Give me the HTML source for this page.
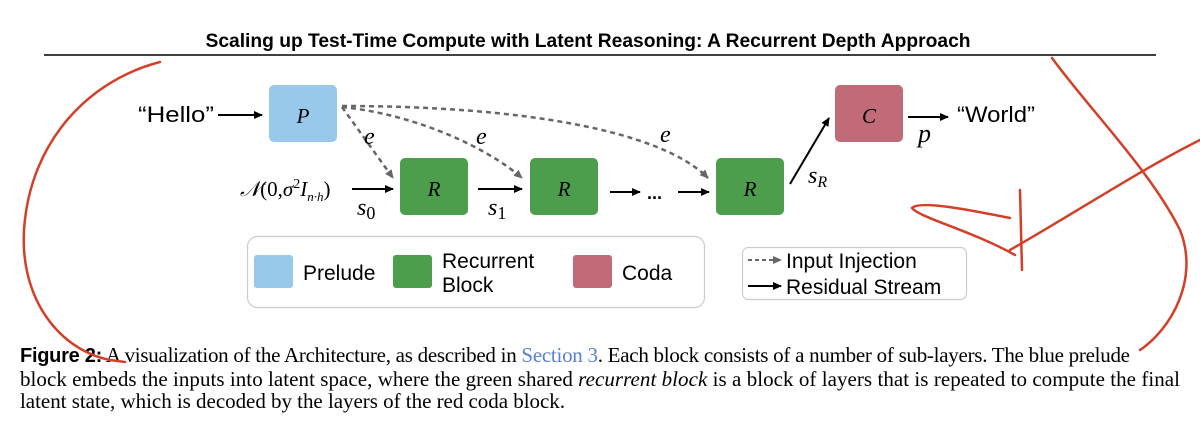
<!DOCTYPE html>
<html><head><meta charset="utf-8"><style>
html,body{margin:0;padding:0;background:#fff;width:1200px;height:424px;overflow:hidden}
svg{display:block}
.s{font-family:"Liberation Sans",sans-serif}
.m{font-family:"Liberation Serif",serif;font-style:italic}
.c{font-family:"Liberation Serif",serif;font-size:21px}
</style></head><body>
<svg width="1200" height="424" viewBox="0 0 1200 424" xmlns="http://www.w3.org/2000/svg">
<defs>
<marker id="ab" markerWidth="10" markerHeight="10" refX="8" refY="5" orient="auto" markerUnits="userSpaceOnUse"><path d="M0,1 L9,5 L0,9 Z" fill="#000"/></marker>
<marker id="ag" markerWidth="10" markerHeight="10" refX="8" refY="5" orient="auto" markerUnits="userSpaceOnUse"><path d="M0,1 L9,5 L0,9 Z" fill="#666"/></marker>
</defs>
<text x="588" y="47" text-anchor="middle" class="s" font-size="19" font-weight="bold" textLength="765" lengthAdjust="spacingAndGlyphs">Scaling up Test-Time Compute with Latent Reasoning: A Recurrent Depth Approach</text>
<line x1="44" y1="55" x2="1156" y2="55" stroke="#000" stroke-width="1.5"/>

<text x="138" y="122" class="s" font-size="22" textLength="76" lengthAdjust="spacingAndGlyphs">“Hello”</text>
<line x1="218" y1="115" x2="262" y2="115" stroke="#000" stroke-width="2" marker-end="url(#ab)"/>
<rect x="269" y="85" width="68" height="57" rx="5" fill="#98c8ea"/>
<text x="303" y="123" class="m" font-size="21" text-anchor="middle">P</text>

<g stroke="#666" stroke-width="2.5" stroke-dasharray="5,4" fill="none">
<path d="M342,107 L393,178" marker-end="url(#ag)"/>
<path d="M342,107 C420,115 490,150 522,178" marker-end="url(#ag)"/>
<path d="M342,106 C520,106 660,130 708,178" marker-end="url(#ag)"/>
</g>
<text x="364" y="144" class="m" font-size="24">e</text>
<text x="476" y="144" class="m" font-size="24">e</text>
<text x="660" y="142" class="m" font-size="24">e</text>

<text x="240" y="196" class="m" font-size="21">𝒩<tspan font-style="normal">(0,</tspan>σ<tspan font-size="14" dy="-8" font-style="normal">2</tspan><tspan dy="8">I</tspan><tspan font-size="13" dy="5">n·h</tspan><tspan dy="-5" font-style="normal">)</tspan></text>
<line x1="352" y1="189" x2="393" y2="189" stroke="#000" stroke-width="2" marker-end="url(#ab)"/>
<text x="357" y="215" class="m" font-size="24">s<tspan font-style="normal" font-size="18" dy="4">0</tspan></text>
<rect x="400" y="158" width="68" height="57" rx="5" fill="#4c9e4c"/>
<text x="434" y="196" class="m" font-size="21" text-anchor="middle">R</text>
<line x1="478" y1="189" x2="522" y2="189" stroke="#000" stroke-width="2" marker-end="url(#ab)"/>
<text x="488" y="215" class="m" font-size="24">s<tspan font-style="normal" font-size="18" dy="4">1</tspan></text>
<rect x="530" y="158" width="68" height="57" rx="5" fill="#4c9e4c"/>
<text x="564" y="196" class="m" font-size="21" text-anchor="middle">R</text>
<line x1="610" y1="192" x2="640" y2="192" stroke="#000" stroke-width="2" marker-end="url(#ab)"/>
<text x="647" y="199" class="s" font-size="18" font-weight="bold">...</text>
<line x1="678" y1="192" x2="709" y2="192" stroke="#000" stroke-width="2" marker-end="url(#ab)"/>
<rect x="716" y="158" width="68" height="57" rx="5" fill="#4c9e4c"/>
<text x="750" y="196" class="m" font-size="21" text-anchor="middle">R</text>
<line x1="790" y1="184" x2="829" y2="118" stroke="#000" stroke-width="2" marker-end="url(#ab)"/>
<text x="808" y="183" class="m" font-size="24">s<tspan font-size="16" dy="4">R</tspan></text>
<rect x="835" y="85" width="68" height="57" rx="5" fill="#c26b78"/>
<text x="869" y="123" class="m" font-size="21" text-anchor="middle">C</text>
<line x1="908" y1="117" x2="948" y2="117" stroke="#000" stroke-width="2" marker-end="url(#ab)"/>
<text x="918" y="142" class="m" font-size="26">p</text>
<text x="957" y="122" class="s" font-size="22" textLength="78" lengthAdjust="spacingAndGlyphs">“World”</text>

<rect x="247.5" y="236.5" width="457" height="71" rx="10" fill="#fff" stroke="#ccc" stroke-width="1.2"/>
<rect x="254" y="255" width="39" height="33" rx="3" fill="#98c8ea"/>
<text x="303" y="280" class="s" font-size="21">Prelude</text>
<rect x="393" y="255" width="39" height="33" rx="3" fill="#4c9e4c"/>
<text x="442" y="268" class="s" font-size="21">Recurrent</text>
<text x="442" y="292" class="s" font-size="21">Block</text>
<rect x="573" y="255" width="39" height="33" rx="3" fill="#c26b78"/>
<text x="622" y="280" class="s" font-size="21">Coda</text>

<rect x="742.5" y="247.5" width="224" height="52" rx="6" fill="#fff" stroke="#ccc" stroke-width="1.2"/>
<line x1="748" y1="260" x2="781" y2="260" stroke="#666" stroke-width="2" stroke-dasharray="4,3" marker-end="url(#ag)"/>
<text x="786" y="268" class="s" font-size="21">Input Injection</text>
<line x1="748" y1="286" x2="781" y2="286" stroke="#000" stroke-width="2" marker-end="url(#ab)"/>
<text x="786" y="294" class="s" font-size="21">Residual Stream</text>

<text x="20" y="362" class="c" textLength="1110" lengthAdjust="spacing"><tspan font-family="Liberation Sans" font-weight="bold" font-size="20">Figure 2:</tspan> A visualization of the Architecture, as described in <tspan fill="#5b7fd6">Section 3</tspan>. Each block consists of a number of sub-layers. The blue prelude</text>
<text x="20" y="386" class="c" textLength="1160" lengthAdjust="spacing">block embeds the inputs into latent space, where the green shared <tspan font-style="italic">recurrent block</tspan> is a block of layers that is repeated to compute the final</text>
<text x="20" y="408" class="c" textLength="545" lengthAdjust="spacing">latent state, which is decoded by the layers of the red coda block.</text>

<g stroke="#d2402a" stroke-width="2.5" fill="none" stroke-linecap="round">
<path d="M160,62 C90,80 30,140 24,230 C20,300 60,350 110,360 L125,362"/>
<path d="M1052,58 C1090,110 1150,170 1180,230 C1200,280 1170,330 1140,350"/>
<path d="M1200,140 C1140,170 1080,210 1010,250"/>
<path d="M1010,218 C970,210 920,200 912,208 C920,218 970,230 1015,255"/>
<path d="M1020,190 L1022,270"/>
</g>
</svg>
</body></html>
